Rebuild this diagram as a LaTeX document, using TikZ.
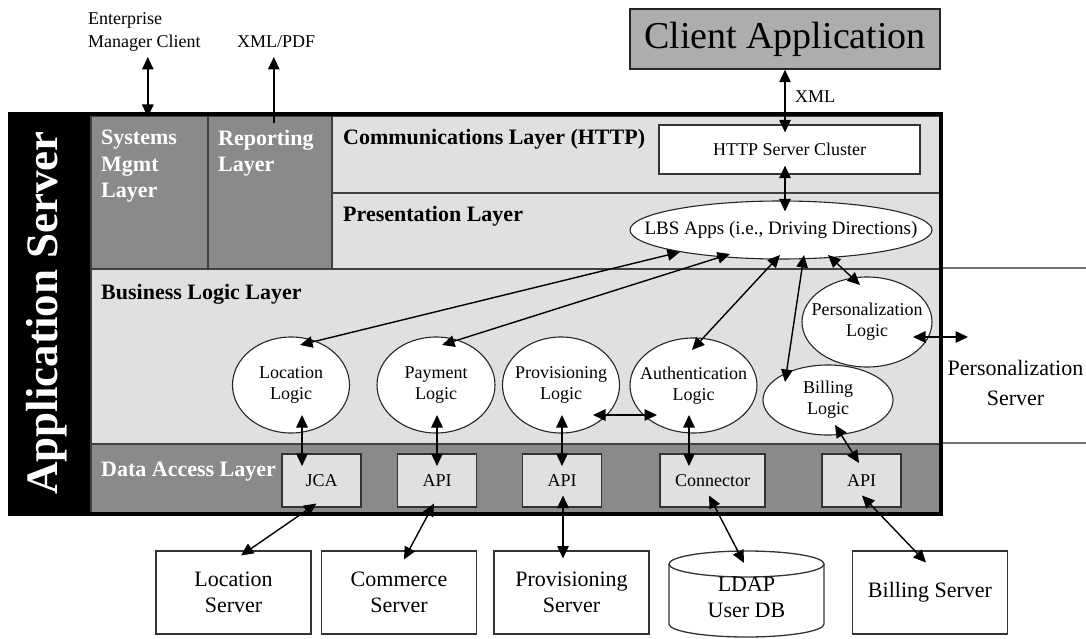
\documentclass[tikz,border=0pt]{standalone}
\usepackage{fontspec}
\setmainfont{Liberation Serif}
\usetikzlibrary{arrows.meta,calc,shapes.geometric}
\definecolor{darkl}{HTML}{8A8A8A}
\definecolor{lightl}{HTML}{E0E0E0}
\definecolor{clientc}{HTML}{ADADAD}
\newcommand\fA{\fontsize{22}{26.5}\selectfont}
\newcommand\fB{\fontsize{18}{21}\selectfont}
\newcommand\fC{\fontsize{22}{26}\selectfont}
\newcommand\fD{\fontsize{18}{23}\selectfont}
\newcommand\fE{\fontsize{38}{44}\selectfont}
\newcommand\fF{\fontsize{45}{50}\selectfont}
\newcommand\fG{\fontsize{22}{30}\selectfont}
\newcommand\fH{\fontsize{19}{22}\selectfont}
\tikzset{
 darklayer/.style={rectangle, anchor=north west, fill=darkl, draw=black!75, line width=1.6pt, inner sep=0pt},
 lightlayer/.style={rectangle, anchor=north west, fill=lightl, draw=black!75, line width=1.6pt, inner sep=0pt},
 layertext/.style={anchor=base west, inner sep=0pt, font=\bfseries\fA},
 logic/.style={ellipse, draw=black!85, fill=white, line width=1.1pt, inner sep=0pt},
 ltext/.style={align=center, font=\fB, inner sep=0pt},
 dabox/.style={rectangle, draw=black!80, fill=lightl, line width=1.3pt, minimum width=79pt, minimum height=53pt, inner sep=0pt, font=\fB},
 srvbox/.style={rectangle, draw=black!80, fill=white, line width=1.3pt, minimum width=155pt, minimum height=83pt, inner sep=0pt, align=center, font=\fC},
 biarrow/.style={line width=1.4pt, {Triangle[length=12.5pt,width=11.5pt]}-{Triangle[length=12.5pt,width=11.5pt]}},
 uniarrow/.style={line width=1.4pt, -{Triangle[length=12.5pt,width=11.5pt]}},
 extline/.style={line width=2.5pt, draw=black!55},
}
\begin{document}
\begin{tikzpicture}[x=1pt,y=-1pt]
\fill[white] (0,0) rectangle (1086,639);
\useasboundingbox (0,0) rectangle (1086,639);

% layers
\node[darklayer, minimum width=117pt, minimum height=153pt] (sys) at (90,115) {};
\node[darklayer, minimum width=124pt, minimum height=153pt] (rep) at (207,115) {};
\node[lightlayer, minimum width=609pt, minimum height=77pt] (comm) at (331,115) {};
\node[lightlayer, minimum width=609pt, minimum height=76pt] (pres) at (331,192) {};
\node[lightlayer, minimum width=850pt, minimum height=175pt] (bus) at (90,268) {};
\node[darklayer, minimum width=850pt, minimum height=71pt] (dal) at (90,443) {};
\draw[extline] (bus.north east) -- (1086,268);
\draw[extline] (dal.north east) -- (1086,443);

% black column and outer border
\fill[black] (10,114) rectangle (90,514);
\draw[line width=3.5pt] (10,114) rectangle (941,514);
\node[rotate=90, text=white, font=\bfseries\fF, inner sep=0pt] (appsrv) at (47,313) {Application Server};

% layer labels
\node[anchor=north west, inner sep=0pt, align=left, text=white, font=\bfseries\fA] (syslbl) at (101,130) {Systems\\Mgmt\\Layer};
\node[anchor=north west, inner sep=0pt, align=left, text=white, font=\bfseries\fA] (replbl) at (218,130) {Reporting\\Layer};
\node[layertext] (commlbl) at (343,145) {Communications Layer (HTTP)};
\node[layertext] (preslbl) at (343,222) {Presentation Layer};
\node[layertext] (buslbl) at (101,299) {Business Logic Layer};
\node[layertext, text=white] (dallbl) at (101,476) {Data Access Layer};

% top items
\node[anchor=north west, inner sep=0pt, align=left, font=\fD] (ent) at (88,12) {Enterprise\\Manager Client};
\node[anchor=base west, inner sep=0pt, font=\fD] (xmlpdf) at (237,48) {XML/PDF};
\node[rectangle, draw=black!85, fill=clientc, line width=1.5pt, minimum width=310pt, minimum height=60pt, inner sep=0pt, font=\fE] (client) at (785,39) {Client Application};
\node[anchor=west, inner sep=0pt, font=\fD] (xmllbl) at (795,97) {XML};
\node[rectangle, draw=black!80, fill=white, line width=1.3pt, minimum width=261pt, minimum height=49pt, inner sep=0pt, font=\fB] (http) at (789.5,149.5) {HTTP Server Cluster};

% ellipses
\node[logic, minimum width=302pt, minimum height=58pt] (lbs) at (781,230) {};
\node[font=\fH, inner sep=0pt] (lbst) at (lbs) {LBS Apps (i.e., Driving Directions)};
\node[logic, minimum width=117pt, minimum height=96pt] (loc) at (291,385) {};
\node[ltext] (loct) at (loc) {Location\\Logic};
\node[logic, minimum width=118pt, minimum height=96pt] (pay) at (436,385) {};
\node[ltext] (payt) at (pay) {Payment\\Logic};
\node[logic, minimum width=117pt, minimum height=96pt] (prov) at (561,385) {};
\node[ltext] (provt) at (prov) {Provisioning\\Logic};
\node[logic, minimum width=127pt, minimum height=95pt] (auth) at (693.5,385.5) {};
\node[ltext] (autht) at (auth) {Authentication\\Logic};
\node[logic, minimum width=130pt, minimum height=90pt] (pers) at (867,322) {};
\node[ltext] (perst) at (pers) {Personalization\\Logic};
\node[logic, minimum width=130pt, minimum height=70pt] (bill) at (828,400) {};
\node[ltext] (billt) at (bill) {Billing\\Logic};
\node[align=center, inner sep=0pt, font=\fG] (psrv) at (1015.5,383) {Personalization\\Server};

% data access boxes
\node[dabox] (jca) at (321.5,480.5) {JCA};
\node[dabox] (api1) at (437,480.5) {API};
\node[dabox] (api2) at (562,480.5) {API};
\node[dabox, minimum width=105pt] (conn) at (712.5,480.5) {Connector};
\node[dabox] (api3) at (861.5,480.5) {API};

% servers
\node[srvbox] (locsrv) at (233.5,592.5) {Location\\Server};
\node[srvbox] (comsrv) at (399,592.5) {Commerce\\Server};
\node[srvbox] (provsrv) at (571.5,592.5) {Provisioning\\Server};
\node[srvbox] (billsrv) at (930,592.5) {Billing Server};
% LDAP cylinder
\fill[white] (669,564) -- (669,624) arc[start angle=180, end angle=360, x radius=77.5pt, y radius=13pt] -- (824,564) arc[start angle=0, end angle=180, x radius=77.5pt, y radius=13pt] -- cycle;
\draw[line width=1.3pt, draw=black!80] (669,564) -- (669,624) arc[start angle=180, end angle=360, x radius=77.5pt, y radius=13pt] -- (824,564);
\draw[line width=1.3pt, draw=black!80] (746.5,564) ellipse [x radius=77.5pt, y radius=13pt];
\node[align=center, inner sep=0pt, font=\fC] (ldap) at (746.5,597) {LDAP\\User DB};

% connectors
\draw[biarrow] ($(sys.north)+(-1.5,2)$) -- ($(sys.north)+(-1.5,-58)$);
\draw[uniarrow] ($(rep.north)+(4,8)$) -- ($(rep.north)+(4,-58)$);
\draw[biarrow] (client.south) -- ($(client.south |- http.north)+(0,8)$);
\draw[biarrow] ($(client.south |- http.south)+(0,-9)$) -- ($(client.south |- lbs.north)+(0,11)$);
\draw[biarrow] ($(lbs)+(-101,22)$) -- ($(loc)+(9,-40)$);
\draw[biarrow] ($(lbs)+(-51,24)$) -- ($(pay)+(6,-40)$);
\draw[biarrow] ($(lbs)+(-1,25)$) -- ($(auth)+(-1.5,-35.5)$);
\draw[biarrow] ($(lbs)+(23,25)$) -- ($(bill)+(-43,-18)$);
\draw[biarrow] ($(lbs)+(47,25)$) -- ($(pers)+(-7,-37)$);
\draw[biarrow] ($(prov)+(32,30)$) -- ($(auth)+(-36.5,29.5)$);
\draw[biarrow] ($(pers)+(46,15)$) -- ($(psrv)+(-47.5,-46)$);
\draw[biarrow] ($(loc)+(11,30)$) -- ($(jca)+(-19.5,-14.5)$);
\draw[biarrow] ($(pay)+(1,30)$) -- ($(api1)+(0,-14.5)$);
\draw[biarrow] ($(prov)+(1,30)$) -- ($(api2)+(0,-14.5)$);
\draw[biarrow] ($(auth)+(-4.5,29.5)$) -- ($(conn)+(-23.5,-14.5)$);
\draw[biarrow] ($(bill)+(7,25)$) -- ($(api3)+(-2.5,-17.5)$);
\draw[biarrow] ($(jca)+(-5,23)$) -- ($(locsrv)+(7.5,-37)$);
\draw[biarrow] ($(api1)+(-3,23)$) -- ($(comsrv)+(5,-33)$);
\draw[biarrow] ($(api2)+(1,15)$) -- ($(provsrv)+(-8.5,-34)$);
\draw[biarrow] ($(conn)+(-3.5,15)$) -- ($(ldap)+(-2.5,-34)$);
\draw[biarrow] ($(api3)+(0.5,15)$) -- ($(billsrv)+(-4,-30)$);
\end{tikzpicture}
\end{document}
